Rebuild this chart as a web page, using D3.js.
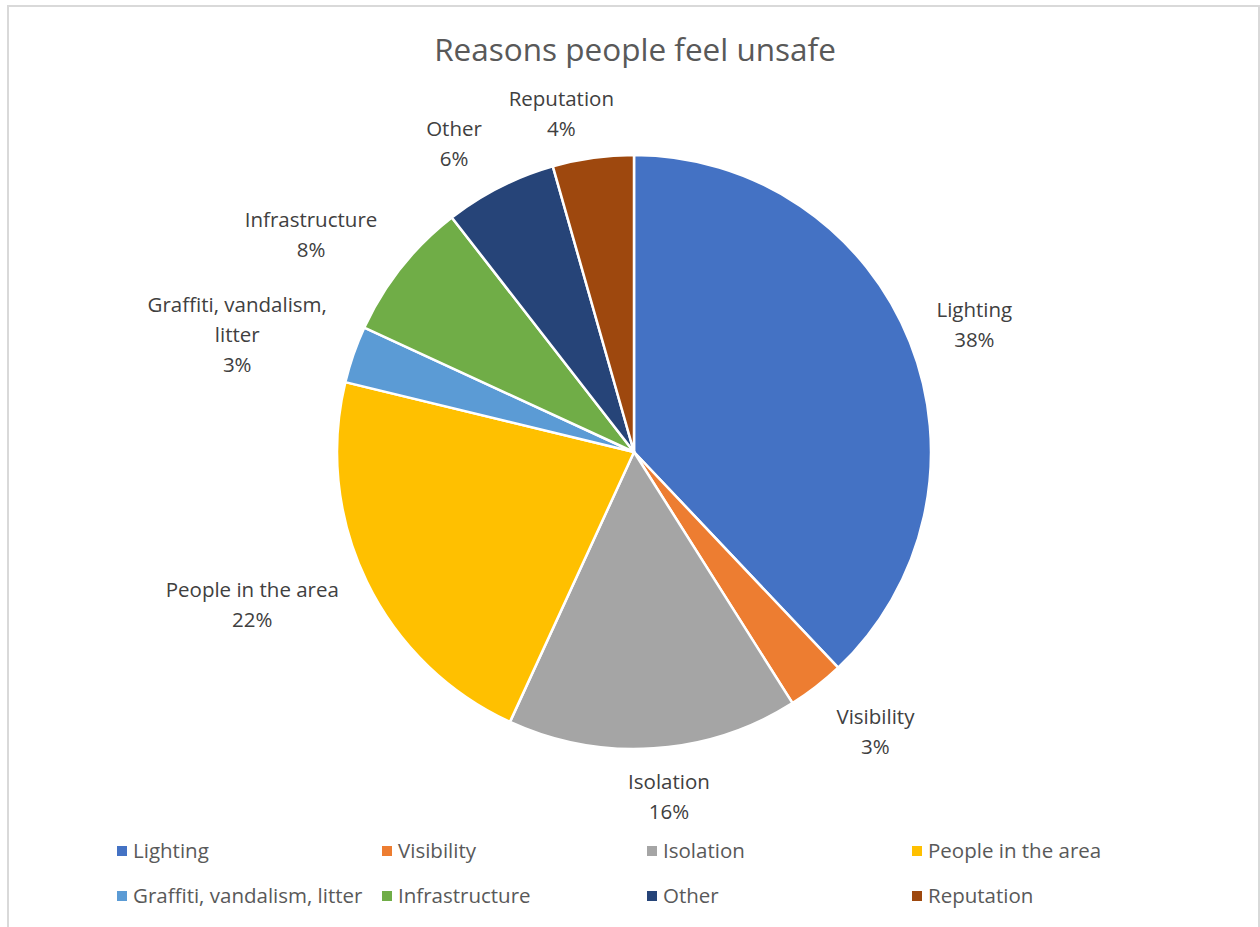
<!DOCTYPE html>
<html>
<head>
<meta charset="utf-8">
<script src="https://cdn.jsdelivr.net/npm/d3@7/dist/d3.min.js"></script>
<style>
  body { margin: 0; background: #ffffff; }
  svg text { font-family: "Open Sans", "Noto Sans", sans-serif; }
</style>
</head>
<body>
<svg id="chart" width="1260" height="927"></svg>
<script>
// Survey responses: reasons people feel unsafe (share of answers, %)
const categories = [
  "Lighting", "Visibility", "Isolation", "People in the area",
  "Graffiti, vandalism, litter", "Infrastructure", "Other", "Reputation"
];
const values = [37.9, 3.1, 15.8, 21.9, 3.1, 7.6, 6.1, 4.4];
const colors = ["#4472C4", "#ED7D31", "#A5A5A5", "#FFC000", "#5B9BD5", "#70AD47", "#264478", "#9E480E"];
const title = "Reasons people feel unsafe";

// Per-label fine placement of the outside data labels [dx, dy]
const labelShift = [[6, 2], [20, 5], [11, -2], [-14, 1], [-8, 2], [-19, -1], [-22, 2], [-21, 6]];

const W = 1260, H = 927;
const cx = 634, cy = 452, radius = 297;
const labelGap = 25, lineH = 30, labelFont = 20.5, labelMaxW = 205;

const svg = d3.select("#chart");

// Chart area frame
svg.append("rect")
  .attr("x", 8).attr("y", 6)
  .attr("width", 1251).attr("height", 940)
  .attr("fill", "#ffffff")
  .attr("stroke", "#d9d9d9").attr("stroke-width", 2);

// Title
svg.append("text")
  .attr("x", 635).attr("y", 61)
  .attr("text-anchor", "middle")
  .attr("font-size", 31.5)
  .attr("fill", "#595959")
  .text(title);

const data = categories.map((c, i) => ({ name: c, value: values[i], color: colors[i], i }));
const total = d3.sum(values);

const pie = d3.pie().sort(null).value(d => d.value);
const arc = d3.arc().innerRadius(0).outerRadius(radius);
const arcs = pie(data);

const g = svg.append("g").attr("transform", `translate(${cx},${cy})`);

g.selectAll("path.slice")
  .data(arcs)
  .join("path")
  .attr("class", "slice")
  .attr("d", arc)
  .attr("fill", d => d.data.color)
  .attr("stroke", "#ffffff")
  .attr("stroke-width", 2.5)
  .attr("stroke-linejoin", "round");

// Word wrap helper using a hidden measuring text node
const measure = svg.append("text").attr("font-size", labelFont).attr("visibility", "hidden");
function textW(s) { measure.text(s); return measure.node().getComputedTextLength(); }
function wrap(s, maxW) {
  const words = s.split(" ");
  const lines = [];
  let cur = "";
  words.forEach(w => {
    const t = cur ? cur + " " + w : w;
    if (cur && textW(t) > maxW) { lines.push(cur); cur = w; }
    else cur = t;
  });
  if (cur) lines.push(cur);
  return lines;
}

// Outside-end data labels: category name plus percentage
arcs.forEach((a, k) => {
  const pct = Math.round(a.data.value / total * 100) + "%";
  const lines = wrap(a.data.name, labelMaxW).concat([pct]);
  const w = d3.max(lines, textW);
  const h = (lines.length - 1) * lineH + 22;
  const mid = (a.startAngle + a.endAngle) / 2;
  const ux = Math.sin(mid), uy = -Math.cos(mid);
  const R = radius + labelGap;
  const lx = ux * R + ux * w / 2 + labelShift[k][0];
  const ly = uy * R + uy * h / 2 + labelShift[k][1];
  const t = g.append("text")
    .attr("text-anchor", "middle")
    .attr("font-size", labelFont)
    .attr("fill", "#404040");
  lines.forEach((ln, j) => {
    t.append("tspan")
      .attr("x", lx)
      .attr("y", ly - (lines.length - 1) * lineH / 2 + j * lineH)
      .attr("dy", "0.35em")
      .text(ln);
  });
});
measure.remove();

// Legend: four columns, two rows
const legendX = 117, legendColW = 265, legendY = 851, legendRowH = 45;
const leg = svg.append("g");
data.forEach((d, i) => {
  const col = i % 4, row = Math.floor(i / 4);
  const x = legendX + col * legendColW, y = legendY + row * legendRowH;
  leg.append("rect")
    .attr("x", x).attr("y", y - 5)
    .attr("width", 10).attr("height", 10)
    .attr("fill", d.color);
  leg.append("text")
    .attr("x", x + 16).attr("y", y)
    .attr("dy", "0.35em")
    .attr("font-size", labelFont)
    .attr("fill", "#595959")
    .text(d.name);
});
</script>
</body>
</html>
